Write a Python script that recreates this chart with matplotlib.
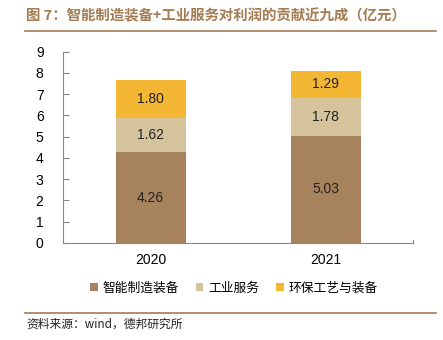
import matplotlib.pyplot as plt
from matplotlib.lines import Line2D

plt.rcParams['font.family'] = ['Liberation Sans', 'Noto Sans CJK SC', 'DejaVu Sans']

years = ['2020', '2021']
zhineng = [4.26, 5.03]
gongye = [1.62, 1.78]
huanbao = [1.80, 1.29]
series_names = ['智能制造装备', '工业服务', '环保工艺与装备']
colors = ['#A6835C', '#D5C39C', '#F4B733']
brown = '#A57C52'

fig = plt.figure(figsize=(4.43, 3.4), dpi=100)
ax = fig.add_axes([63 / 443, 1 - 243 / 340, 350 / 443, 191.5 / 340])

x = range(len(years))
bottom = [0, 0]
for vals, name, c in zip([zhineng, gongye, huanbao], series_names, colors):
    bars = ax.bar(x, vals, width=0.4, bottom=bottom, color=c, label=name)
    for b, v, b0 in zip(bars, vals, bottom):
        ax.text(b.get_x() + b.get_width() / 2, b0 + v / 2, f'{v:.2f}',
                ha='center', va='center', fontsize=10, color='#222222')
    bottom = [b0 + v for b0, v in zip(bottom, vals)]

ax.set_xlim(-0.5, 1.5)
ax.set_ylim(0, 9)
ax.set_yticks(range(0, 10))
ax.set_xticks(list(x))
ax.set_xticklabels(years)
for s in ['top', 'right']:
    ax.spines[s].set_visible(False)
ax.spines['left'].set_color('#888888')
ax.spines['bottom'].set_color('#888888')
ax.tick_params(axis='y', direction='in', length=4, color='#888888', labelsize=10, pad=14)
ax.tick_params(axis='x', length=0, labelsize=10, pad=7)
ax.plot([1.5, 1.5], [0, 0.15], color='#888888', lw=0.8, clip_on=False)

leg = fig.legend(loc='center', bbox_to_anchor=(234 / 443, 1 - 288 / 340), ncol=3, frameon=False,
                 handlelength=0.6, handleheight=0.6, handletextpad=0.4, columnspacing=1.3,
                 prop={'family': 'Noto Sans CJK SC', 'size': 9.2})

fig.text(26 / 443, 1 - 16 / 340, '图 7：智能制造装备+工业服务对利润的贡献近九成（亿元）',
         fontsize=10.4, fontweight='bold', color=brown, va='center', family='Noto Sans CJK SC')
fig.add_artist(Line2D([25 / 443, 436 / 443], [1 - 31 / 340] * 2, color=brown, lw=1.2))
fig.add_artist(Line2D([25 / 443, 436 / 443], [1 - 313 / 340] * 2, color=brown, lw=1.2))
fig.text(26 / 443, 1 - 324 / 340, '资料来源：wind，德邦研究所', fontsize=8.5, va='center',
         color='#222222', family=['Noto Sans CJK SC', 'DejaVu Sans'])

fig.savefig('out.png', dpi=100)
